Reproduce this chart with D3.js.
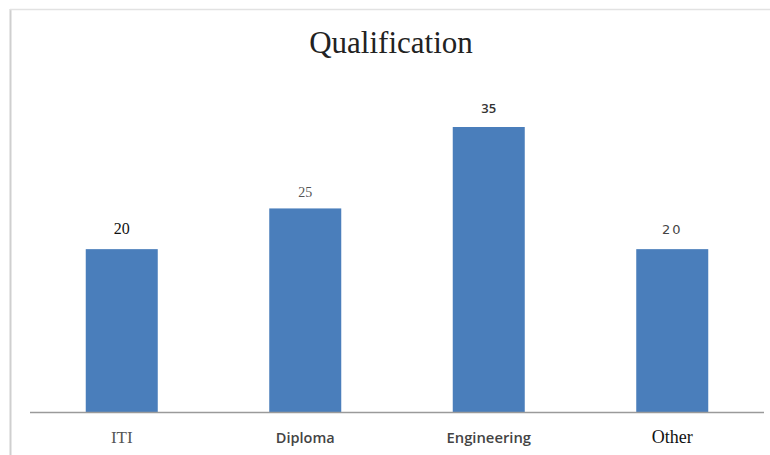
<!DOCTYPE html>
<html>
<head>
<meta charset="utf-8">
<script src="https://cdn.jsdelivr.net/npm/d3@7"></script>
<style>
  html, body { margin: 0; padding: 0; background: #fff; }
  svg { display: block; }
</style>
</head>
<body>
<svg id="chart" width="770" height="455"></svg>
<script>
const categories = ["ITI", "Diploma", "Engineering", "Other"];
const values = [20, 25, 35, 20];
const valueLabels = ["20", "25", "35", "20"];
const titleText = "Qualification";

const svg = d3.select("#chart");
const W = 770, H = 455;

// chart border (top and left edges visible)
svg.append("line").attr("x1", 10.5).attr("x2", 10.5).attr("y1", 9).attr("y2", H)
  .attr("stroke", "#cfcfcf").attr("stroke-width", 2);
svg.append("line").attr("x1", 10).attr("x2", W).attr("y1", 9.5).attr("y2", 9.5)
  .attr("stroke", "#e2e2e2").attr("stroke-width", 1.5);

const x = d3.scaleBand().domain(categories).range([30, 764]).padding(0);
const y = d3.scaleLinear().domain([0, 35]).range([412, 127]);
const barW = 72;

svg.append("text")
  .attr("x", 391).attr("y", 53)
  .attr("text-anchor", "middle")
  .attr("font-family", "'Liberation Serif', 'Times New Roman', serif")
  .attr("font-size", 31)
  .attr("fill", "#222")
  .text(titleText);

svg.selectAll("rect.bar").data(categories).enter().append("rect")
  .attr("class", "bar")
  .attr("x", d => x(d) + x.bandwidth() / 2 - barW / 2)
  .attr("width", barW)
  .attr("y", (d, i) => y(values[i]))
  .attr("height", (d, i) => y(0) - y(values[i]))
  .attr("fill", "#4a7ebb");

// x axis line
svg.append("line").attr("x1", 30).attr("x2", 764).attr("y1", 412.5).attr("y2", 412.5)
  .attr("stroke", "#9a9a9a").attr("stroke-width", 1.5);

const valueStyles = [
  { font: "'Liberation Serif', serif", size: 16, fill: "#111", weight: 400, ls: 0, off: 15 },
  { font: "'Liberation Serif', serif", size: 14, fill: "#555", weight: 400, ls: 0, off: 11 },
  { font: "'Open Sans', sans-serif", size: 13, fill: "#333", weight: 600, ls: 0, off: 14 },
  { font: "'DejaVu Sans', sans-serif", size: 13, fill: "#444", weight: 400, ls: 2, off: 15 }
];
const labelStyles = [
  { font: "'Liberation Serif', serif", size: 17, fill: "#555", weight: 400, ls: 0 },
  { font: "'Open Sans', sans-serif", size: 14.5, fill: "#444", weight: 600, ls: 0 },
  { font: "'Open Sans', sans-serif", size: 14.8, fill: "#444", weight: 600, ls: 0 },
  { font: "'Liberation Serif', serif", size: 18, fill: "#111", weight: 400, ls: 0 }
];

svg.selectAll("text.val").data(categories).enter().append("text")
  .attr("class", "val")
  .attr("x", d => x(d) + x.bandwidth() / 2)
  .attr("y", (d, i) => y(values[i]) - valueStyles[i].off)
  .attr("text-anchor", "middle")
  .attr("font-family", (d, i) => valueStyles[i].font)
  .attr("font-size", (d, i) => valueStyles[i].size)
  .attr("font-weight", (d, i) => valueStyles[i].weight)
  .attr("letter-spacing", (d, i) => valueStyles[i].ls)
  .attr("fill", (d, i) => valueStyles[i].fill)
  .text((d, i) => valueLabels[i]);

svg.selectAll("text.cat").data(categories).enter().append("text")
  .attr("class", "cat")
  .attr("x", d => x(d) + x.bandwidth() / 2)
  .attr("y", 443)
  .attr("text-anchor", "middle")
  .attr("font-family", (d, i) => labelStyles[i].font)
  .attr("font-size", (d, i) => labelStyles[i].size)
  .attr("font-weight", (d, i) => labelStyles[i].weight)
  .attr("letter-spacing", (d, i) => labelStyles[i].ls)
  .attr("fill", (d, i) => labelStyles[i].fill)
  .text(d => d);
</script>
</body>
</html>
